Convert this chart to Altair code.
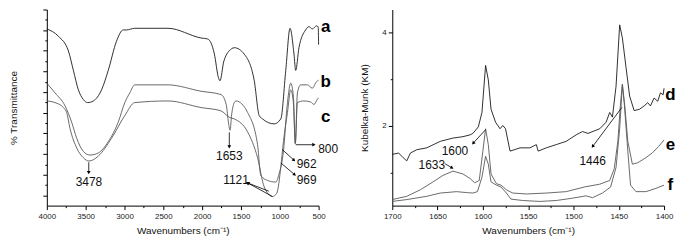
import altair as alt
import pandas as pd

# ---------------- Left panel: FTIR (% Transmittance) ----------------
a_wn = [4000, 3850, 3722, 3658, 3594, 3530, 3474, 3401, 3295, 3209, 3103, 3017, 2974, 2868, 2440,
        2013, 1927, 1842, 1790, 1770, 1720, 1620, 1586, 1458, 1330, 1265, 1222, 1073, 987, 923,
        868, 817, 795, 753, 667, 624, 581, 526, 505, 500]
a_t = [85.6, 82.0, 74.9, 65.5, 56.1, 51.4, 49.9, 50.7, 56.1, 65.5, 79.6, 85.1, 85.1, 85.9, 85.9,
       81.2, 80.7, 73.4, 62.0, 60.5, 70.0, 76.0, 76.5, 73.4, 60.8, 43.6, 42.0, 39.6, 42.0, 65.5,
       85.9, 73.4, 65.5, 76.5, 85.1, 86.7, 85.6, 87.1, 86.5, 78.0]

b_wn = [4000, 3894, 3765, 3680, 3615, 3530, 3445, 3337, 3209, 3081, 2996, 2932, 2868, 2440, 2013,
        1757, 1690, 1660, 1640, 1620, 1586, 1564, 1414, 1286, 1244, 1158, 1051, 1009, 953, 901,
        859, 825, 800, 773, 731, 645, 581, 526, 500]
b_t = [59.3, 54.6, 48.3, 40.4, 32.6, 26.3, 24.5, 25.5, 31.0, 40.4, 49.9, 54.6, 58.5, 58.5, 55.4,
       53.8, 49.0, 40.0, 36.5, 44.0, 49.9, 50.7, 45.1, 29.5, 14.6, 12.2, 11.4, 15.4, 26.3, 49.9,
       59.3, 53.0, 30.1, 54.6, 58.5, 58.5, 56.9, 60.1, 60.8]

c_wn = [4000, 3894, 3786, 3744, 3701, 3615, 3530, 3458, 3337, 3167, 2996, 2868, 2440, 2013, 1757,
        1650, 1586, 1414, 1286, 1201, 1094, 1039, 987, 953, 901, 859, 825, 800, 773, 689,
        603, 560, 517, 500]
c_t = [50.7, 49.9, 47.5, 45.1, 37.3, 27.9, 23.2, 21.6, 24.0, 32.6, 43.6, 49.9, 50.7, 47.5, 45.9,
       42.8, 42.0, 35.7, 23.2, 9.1, 4.4, 6.0, 18.5, 31.0, 45.1, 56.1, 49.9, 30.1, 49.9, 50.7,
       50.2, 49.0, 51.4, 52.2]

# ---------------- Right panel: Kubelka-Munk ----------------
d_wn = [1700, 1693, 1688, 1684, 1680, 1673, 1662, 1647, 1633, 1622, 1614, 1611, 1605, 1601, 1597,
        1594, 1591, 1586, 1581, 1578, 1575, 1570, 1559, 1548, 1541, 1539, 1530, 1519, 1508, 1497,
        1490, 1484, 1471, 1464, 1460, 1457, 1453, 1449, 1446, 1442, 1438, 1433, 1427, 1422, 1418,
        1415, 1411, 1407, 1404, 1401, 1400]
d_km = [1.39, 1.42, 1.32, 1.25, 1.42, 1.49, 1.53, 1.67, 1.74, 1.77, 1.81, 1.84, 1.98, 2.29, 3.30,
        2.99, 2.36, 2.08, 1.94, 2.01, 1.94, 1.46, 1.53, 1.53, 1.60, 1.46, 1.53, 1.60, 1.67, 1.81,
        1.88, 1.84, 1.94, 2.08, 2.29, 2.19, 2.85, 4.17, 3.89, 3.26, 2.64, 2.33, 2.36, 2.43, 2.50,
        2.43, 2.60, 2.53, 2.71, 2.67, 2.81]

e_wn = [1700, 1684, 1669, 1655, 1644, 1633, 1622, 1614, 1609, 1604, 1600, 1597, 1594, 1591, 1585,
        1580, 1574, 1567, 1552, 1530, 1508, 1488, 1471, 1460, 1455, 1451, 1448, 1446, 1443, 1440,
        1435, 1429, 1420, 1413, 1406, 1400]
e_km = [0.42, 0.49, 0.63, 0.80, 0.94, 1.03, 0.97, 0.87, 0.78, 0.83, 1.46, 1.94, 1.60, 0.97, 0.76,
        0.73, 0.63, 0.56, 0.54, 0.56, 0.59, 0.69, 0.75, 0.83, 1.08, 1.67, 2.50, 2.90, 2.36, 1.67,
        1.18, 1.21, 1.32, 1.42, 1.56, 1.70]

f_wn = [1700, 1684, 1662, 1647, 1629, 1618, 1611, 1606, 1601, 1597, 1594, 1591, 1585, 1580, 1574,
        1569, 1556, 1537, 1519, 1501, 1486, 1479, 1468, 1459, 1453, 1449, 1446, 1444, 1440, 1437,
        1431, 1420, 1409, 1400]
f_km = [0.38, 0.42, 0.49, 0.56, 0.59, 0.57, 0.56, 0.59, 0.90, 1.35, 1.18, 0.80, 0.73, 0.69, 0.56,
        0.43, 0.40, 0.38, 0.40, 0.45, 0.50, 0.46, 0.56, 0.69, 1.11, 1.94, 2.88, 2.50, 1.46, 0.73,
        0.59, 0.59, 0.66, 0.73]

# annotations (labels)
left_labels = ["3478", "1653", "1121", "962", "969", "800"]
left_label_wn = [3458, 1650, 1564, 654, 654, 378]
left_label_t = [11.4, 24.0, 12.2, 20.1, 12.2, 27.6]
left_series_names = ["a", "b", "c"]
left_series_wn = [410, 410, 410]
left_series_t = [86.7, 60.1, 42.8]

right_labels = ["1600", "1633", "1446"]
right_label_wn = [1630.8, 1656.4, 1478.8]
right_label_km = [1.46, 1.17, 1.25]
right_series_names = ["d", "e", "f"]
right_series_wn = [1393, 1393, 1393]
right_series_km = [2.67, 1.60, 0.73]

# arrows: start -> end (head at end)
left_arrow_x = [3460, 1650, 1094, 1141, 966, 987, 795]
left_arrow_y = [21.0, 35.5, 4.4, 7.0, 27.1, 20.7, 29.5]
left_arrow_x2 = [3460, 1650, 1414, 1414, 817, 808, 560]
left_arrow_y2 = [16.0, 28.5, 11.0, 11.0, 22.0, 15.0, 29.5]
left_arrow_angle = [180, 180, 301, 301, 133, 130, 90]

right_arrow_x = [1597, 1641.8, 1446.5]
right_arrow_y = [1.92, 1.19, 2.40]
right_arrow_x2 = [1610.7, 1634, 1478.8]
right_arrow_y2 = [1.63, 1.10, 1.56]
right_arrow_angle = [221, 122, 216]

FONT = "Liberation Sans"
PW, PH = 273, 197


def spectra(names, xs, ys):
    rows = []
    for n, xx, yy in zip(names, xs, ys):
        for a, b in zip(xx, yy):
            rows.append({"s": n, "x": a, "y": b})
    return pd.DataFrame(rows)


left_df = spectra(["a", "b", "c"], [a_wn, b_wn, c_wn], [a_t, b_t, c_t])
right_df = spectra(["d", "e", "f"], [d_wn, e_wn, f_wn], [d_km, e_km, f_km])

left_lab = pd.DataFrame({"t": left_labels, "x": left_label_wn, "y": left_label_t})
left_let = pd.DataFrame({"t": left_series_names, "x": left_series_wn, "y": left_series_t})
right_lab = pd.DataFrame({"t": right_labels, "x": right_label_wn, "y": right_label_km})
right_let = pd.DataFrame({"t": right_series_names, "x": right_series_wn, "y": right_series_km})
left_arr = pd.DataFrame({"x": left_arrow_x, "y": left_arrow_y, "x2": left_arrow_x2,
                         "y2": left_arrow_y2, "angle": left_arrow_angle})
right_arr = pd.DataFrame({"x": right_arrow_x, "y": right_arrow_y, "x2": right_arrow_x2,
                          "y2": right_arrow_y2, "angle": right_arrow_angle})

tick_left_x = {"condition": {"test": "datum.value % 500 == 0", "value": 4}, "value": 2}
tick_left_y = {"condition": {"test": "datum.value % 10 == 5", "value": 4}, "value": 2}
tick_right_x = {"condition": {"test": "datum.value % 50 == 0", "value": 4}, "value": 2}
tick_right_y = {"condition": {"test": "datum.value % 2 == 0", "value": 4}, "value": 2}

lx_scale = alt.Scale(domain=[500, 4000], reverse=True, nice=False, zero=False)
ly_scale = alt.Scale(domain=[0, 95], nice=False, zero=False)
rx_scale = alt.Scale(domain=[1400, 1700], reverse=True, nice=False, zero=False)
ry_scale = alt.Scale(domain=[0.29, 4.5], nice=False, zero=False)

lx_axis = alt.Axis(values=list(range(500, 4001, 250)), tickCount=100, format="d",
                   labelExpr="datum.value % 500 == 0 ? datum.label : ''",
                   labelOverlap=False, labelFlush=False, tickSize=tick_left_x,
                   title="Wavenumbers (cm\u207b\u00b9)", labelPadding=3, titlePadding=5)
ly_axis = alt.Axis(values=list(range(5, 96, 5)), tickCount=100, labels=False,
                   labelOverlap=False, tickSize=tick_left_y, title="% Transmittance",
                   titlePadding=24)
rx_axis = alt.Axis(values=list(range(1400, 1701, 25)), tickCount=100, format="d",
                   labelExpr="datum.value % 50 == 0 ? datum.label : ''",
                   labelOverlap=False, labelFlush=False, tickSize=tick_right_x,
                   title="Wavenumbers (cm\u207b\u00b9)", labelPadding=3, titlePadding=5)
ry_axis = alt.Axis(values=[1, 2, 3, 4], tickCount=100, format="d",
                   labelExpr="datum.value % 2 == 0 ? datum.label : ''",
                   labelOverlap=False, labelFlush=False, tickSize=tick_right_y,
                   title="Kubelka-Munk (KM)", labelPadding=2, titlePadding=12)


def panel(df, lab, let, arr, xs, ys, xa, ya, colors, interp):
    base_x = alt.X("x:Q", scale=xs, axis=xa)
    base_y = alt.Y("y:Q", scale=ys, axis=ya)
    lines = alt.Chart(df).mark_line(strokeWidth=0.9, interpolate=interp).encode(
        x=base_x, y=base_y,
        color=alt.Color("s:N", scale=alt.Scale(domain=list(colors.keys()),
                                               range=list(colors.values())), legend=None),
        order=alt.Order("x:Q", sort="descending"),
        detail="s:N",
    )
    rules = alt.Chart(arr).mark_rule(color="black", strokeWidth=0.8).encode(
        x=alt.X("x:Q", scale=xs), y=alt.Y("y:Q", scale=ys), x2="x2:Q", y2="y2:Q")
    heads = alt.Chart(arr).mark_point(shape="triangle-up", filled=True, size=14,
                                      color="black", opacity=1).encode(
        x=alt.X("x2:Q", scale=xs), y=alt.Y("y2:Q", scale=ys),
        angle=alt.Angle("angle:Q", scale=None))
    labels = alt.Chart(lab).mark_text(font=FONT, fontSize=12, color="#111").encode(
        x=alt.X("x:Q", scale=xs), y=alt.Y("y:Q", scale=ys), text="t:N")
    letters = alt.Chart(let).mark_text(font=FONT, fontSize=17, fontWeight="bold",
                                       color="black").encode(
        x=alt.X("x:Q", scale=xs), y=alt.Y("y:Q", scale=ys), text="t:N")
    return alt.layer(lines, rules, heads, labels, letters).properties(width=PW, height=PH)


left = panel(left_df, left_lab, left_let, left_arr, lx_scale, ly_scale, lx_axis, ly_axis,
             {"a": "#1a1a1a", "b": "#5a5a5a", "c": "#5a5a5a"}, "monotone")
right = panel(right_df, right_lab, right_let, right_arr, rx_scale, ry_scale, rx_axis, ry_axis,
              {"d": "#555555", "e": "#555555", "f": "#555555"}, "linear")

chart = alt.hconcat(left, right, spacing=74, bounds="flush").properties(
    padding=0
).configure_view(stroke=None).configure_axis(
    grid=False, domainColor="black", tickColor="black", domainWidth=1, tickWidth=1,
    labelFont=FONT, labelFontSize=8, labelColor="#222",
    titleFont=FONT, titleFontSize=10, titleFontWeight="normal", titleColor="#111",
)

chart.save("out.html", embed_options={"renderer": "svg", "actions": False})
